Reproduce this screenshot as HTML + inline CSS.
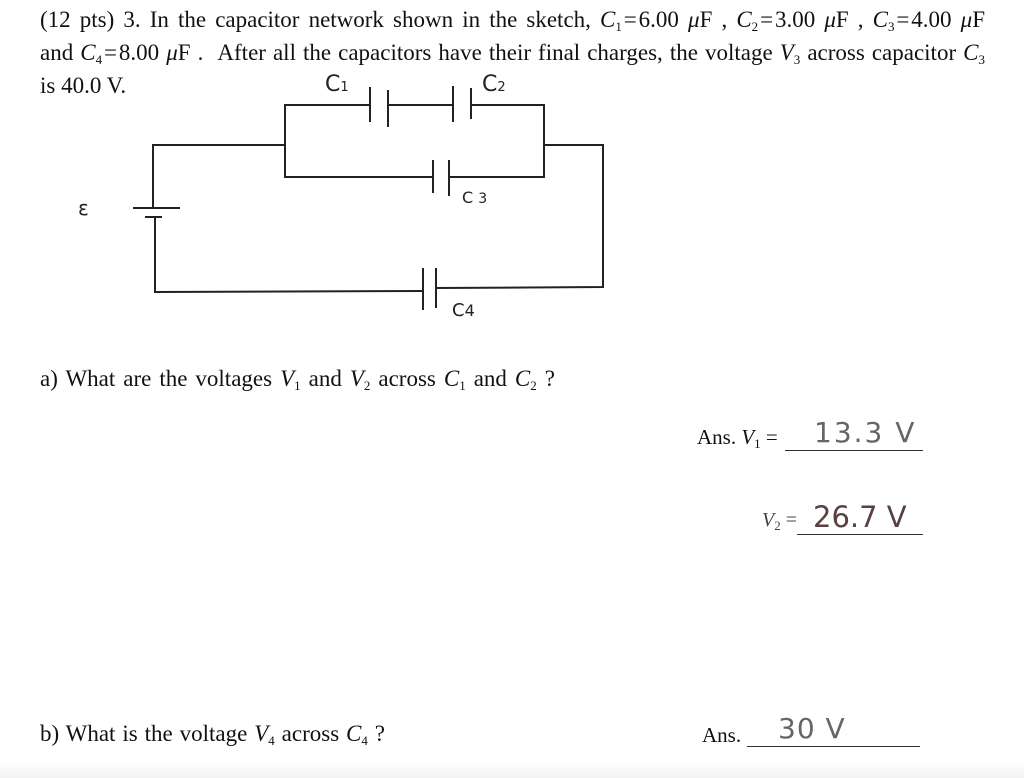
<!DOCTYPE html>
<html><head><meta charset="utf-8"><style>
html,body{margin:0;padding:0;background:#fff;}
body{width:1024px;height:778px;position:relative;overflow:hidden;font-family:"Liberation Serif",serif;font-size:23px;color:#111;}
.t{position:absolute;white-space:nowrap;}
.j{position:absolute;text-align:justify;text-align-last:justify;white-space:normal;}
i{font-style:italic}
sub{font-size:13px;vertical-align:-4px;line-height:0}
.hw{font-family:"DejaVu Sans","Liberation Sans",sans-serif;color:#666;position:absolute;white-space:nowrap;}
.band{position:absolute;left:0;top:762px;width:1024px;height:16px;background:linear-gradient(#fff,#f3f3f3);}
</style></head><body>
<div class="j" style="left:40px;top:7px;width:945px">(12 pts) 3. In the capacitor network shown in the sketch, <i>C</i><sub>1</sub>&#8202;=&#8202;6.00 <i>μ</i>F , <i>C</i><sub>2</sub>&#8202;=&#8202;3.00 <i>μ</i>F , <i>C</i><sub>3</sub>&#8202;=&#8202;4.00 <i>μ</i>F</div>
<div class="j" style="left:40px;top:40px;width:945px">and <i>C</i><sub>4</sub>&#8202;=&#8202;8.00 <i>μ</i>F . &nbsp;After all the capacitors have their final charges, the voltage <i>V</i><sub>3</sub> across capacitor <i>C</i><sub>3</sub></div>
<div class="t" style="left:40px;top:73px">is 40.0 V.</div>

<svg style="position:absolute;left:0;top:0" width="1024" height="778">
<g stroke="#222" stroke-width="2" fill="none">
<polyline points="370,105 285,105 285,177 433,177"/>
<polyline points="388,105 453,105"/>
<polyline points="471,105 544,105 544,177 449,177"/>
<polyline points="285,145 153,145 153,208"/>
<polyline points="544,145 603,145 603,287 436,288"/>
<polyline points="155,217 155,292 423,291"/>
<line x1="133" y1="208" x2="180" y2="208"/>
<line x1="145" y1="217" x2="162" y2="217"/>
<line x1="370" y1="87" x2="370" y2="122"/>
<line x1="388" y1="90" x2="388" y2="127"/>
<line x1="453" y1="86" x2="453" y2="122"/>
<line x1="471" y1="88" x2="471" y2="119"/>
<line x1="433" y1="160" x2="433" y2="193"/>
<line x1="449" y1="160" x2="449" y2="196"/>
<line x1="423" y1="268" x2="423" y2="310"/>
<line x1="436" y1="268" x2="436" y2="308"/>
</g>
</svg>
<div class="hw" style="left:325px;top:72px;font-size:22px;color:#222">C<span style="font-size:13px">1</span></div>
<div class="hw" style="left:482px;top:72px;font-size:22px;color:#222">C<span style="font-size:13px">2</span></div>
<div class="hw" style="left:462px;top:188px;font-size:16px;color:#222">C <span style="font-size:14px">3</span></div>
<div class="hw" style="left:452px;top:300px;font-size:18px;color:#222">C<span style="font-size:16px">4</span></div>
<div class="hw" style="left:78px;top:196px;font-size:20px;color:#222">ε</div>

<div class="j" style="left:40px;top:366px;width:515px">a) What are the voltages <i>V</i><sub>1</sub> and <i>V</i><sub>2</sub> across <i>C</i><sub>1</sub> and <i>C</i><sub>2</sub> ?</div>

<div class="t" style="left:697px;top:425px;font-size:21px">Ans. <i>V</i><sub>1</sub> =</div>
<div style="position:absolute;left:785px;top:450px;width:138px;height:1px;background:#333"></div>
<div class="hw" style="left:814px;top:416px;font-size:28px;letter-spacing:2px">13.3 V</div>

<div class="t" style="left:762px;top:509px;font-size:20px;color:#444"><i>V</i><sub>2</sub> =</div>
<div style="position:absolute;left:797px;top:534px;width:126px;height:1px;background:#333"></div>
<div class="hw" style="left:813px;top:500px;font-size:29px;color:#5a4040;">26.7 V</div>

<div class="j" style="left:40px;top:721px;width:345px">b) What is the voltage <i>V</i><sub>4</sub> across <i>C</i><sub>4</sub> ?</div>
<div class="t" style="left:702px;top:723px;font-size:21px">Ans.</div>
<div style="position:absolute;left:747px;top:746px;width:173px;height:1px;background:#333"></div>
<div class="hw" style="left:778px;top:712px;font-size:28px;letter-spacing:1px">30 V</div>
<div class="band"></div>
</body></html>
